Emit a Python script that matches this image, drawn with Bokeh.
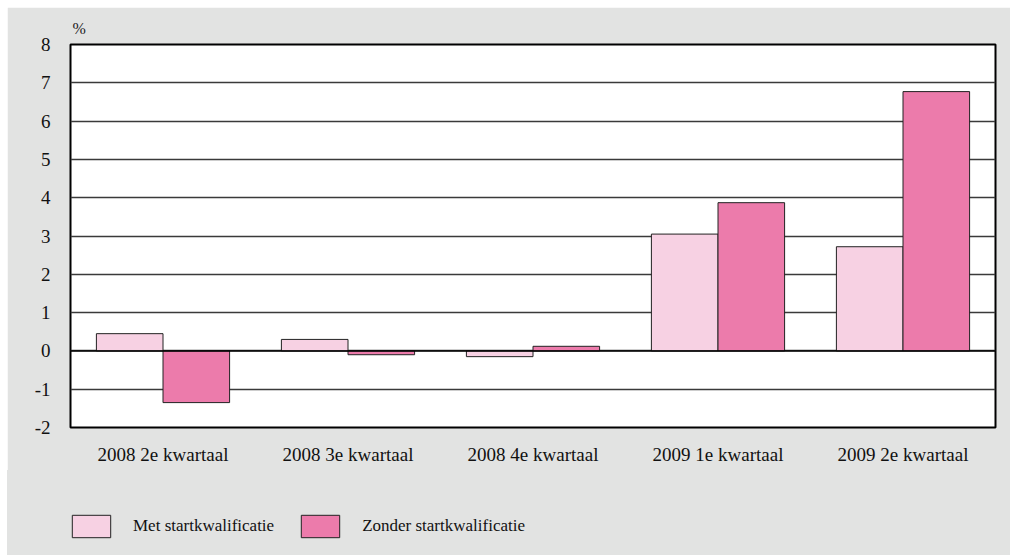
from bokeh.plotting import figure
from bokeh.layouts import column
from bokeh.models import FactorRange, ColumnDataSource, Legend, LegendItem, Title, FixedTicker, Range1d
from bokeh.transform import dodge
from bokeh.embed import file_html
from bokeh.resources import INLINE

categories = ["2008 2e kwartaal", "2008 3e kwartaal", "2008 4e kwartaal", "2009 1e kwartaal", "2009 2e kwartaal"]
met = [0.45, 0.30, -0.15, 3.05, 2.72]
zonder = [-1.35, -0.10, 0.12, 3.87, 6.77]
series_names = ["Met startkwalificatie", "Zonder startkwalificatie"]
y_ticks = [-2, -1, 0, 1, 2, 3, 4, 5, 6, 7, 8]
unit_label = "%"

FONT = "Liberation Serif"
BG = "#e2e3e2"
C_MET = "#f7d1e3"
C_ZONDER = "#ec7bab"
EDGE = "#222222"

src = ColumnDataSource(dict(cat=categories, met=met, zonder=zonder, zero=[0] * len(categories)))

p = figure(width=1003, height=463, x_range=FactorRange(*categories, range_padding=0),
           y_range=Range1d(-2, 8), output_backend="svg", toolbar_location=None,
           min_border_left=63, min_border_right=15, min_border_top=37, min_border_bottom=43)
p.background_fill_color = "white"
p.border_fill_color = BG
p.outline_line_color = "black"
p.outline_line_width = 2

p.xgrid.grid_line_color = None
p.ygrid.grid_line_color = "#3a3a3a"
p.ygrid.grid_line_width = 1.3
p.ygrid.ticker = FixedTicker(ticks=y_ticks)

p.yaxis.ticker = FixedTicker(ticks=y_ticks)
p.yaxis.major_label_overrides = {t: str(t) for t in y_ticks}
for axes in (p.xaxis, p.yaxis):
    axes.axis_line_color = None
    axes.major_tick_line_color = None
    axes.minor_tick_line_color = None
    axes.major_label_text_font = FONT
    axes.major_label_text_font_size = "19px"
    axes.major_label_text_color = "#111111"
p.yaxis.major_label_standoff = 14
p.xaxis.major_label_standoff = 10

p.vbar(x=dodge("cat", -0.18, range=p.x_range), top="met", bottom="zero", width=0.36,
       source=src, fill_color=C_MET, line_color=EDGE, line_width=1)
p.vbar(x=dodge("cat", 0.18, range=p.x_range), top="zonder", bottom="zero", width=0.36,
       source=src, fill_color=C_ZONDER, line_color=EDGE, line_width=1)

p.line(x=[0, 5], y=[0, 0], line_color="black", line_width=1.5)

p.add_layout(Title(text=unit_label, align="left", offset=2, standoff=15,
                   text_font=FONT, text_font_size="16px", text_font_style="normal",
                   text_color="#222222"), "above")

# legend strip
p2 = figure(width=1003, height=85, x_range=Range1d(0, 1), y_range=Range1d(0, 1),
            output_backend="svg", toolbar_location=None, x_axis_type=None, y_axis_type=None,
            min_border_left=63, min_border_right=15, min_border_top=0, min_border_bottom=0)
p2.background_fill_alpha = 0
p2.border_fill_alpha = 0
p2.outline_line_color = None
p2.xgrid.grid_line_color = None
p2.ygrid.grid_line_color = None
p2.styles = {"background-color": BG}
dummy = ColumnDataSource(dict(x=[-10], y=[-10]))
g1 = p2.rect(x="x", y="y", width=1, height=1, source=dummy, fill_color=C_MET, line_color=EDGE, line_width=1)
g2 = p2.rect(x="x", y="y", width=1, height=1, source=dummy, fill_color=C_ZONDER, line_color=EDGE, line_width=1)

legend = Legend(items=[LegendItem(label=series_names[0], renderers=[g1]),
                       LegendItem(label=series_names[1], renderers=[g2])],
                orientation="horizontal", location=(-3, 15),
                glyph_width=48, glyph_height=28, label_standoff=18, spacing=22,
                padding=0, margin=0, border_line_color=None, background_fill_alpha=0,
                label_text_font=FONT, label_text_font_size="17px", label_text_color="#111111",
                label_height=28)
p2.add_layout(legend, "center")

layout = column(p, p2, spacing=0)
layout.margin = (7, 0, 0, 7)

open("out.html", "w").write(file_html(layout, INLINE))
